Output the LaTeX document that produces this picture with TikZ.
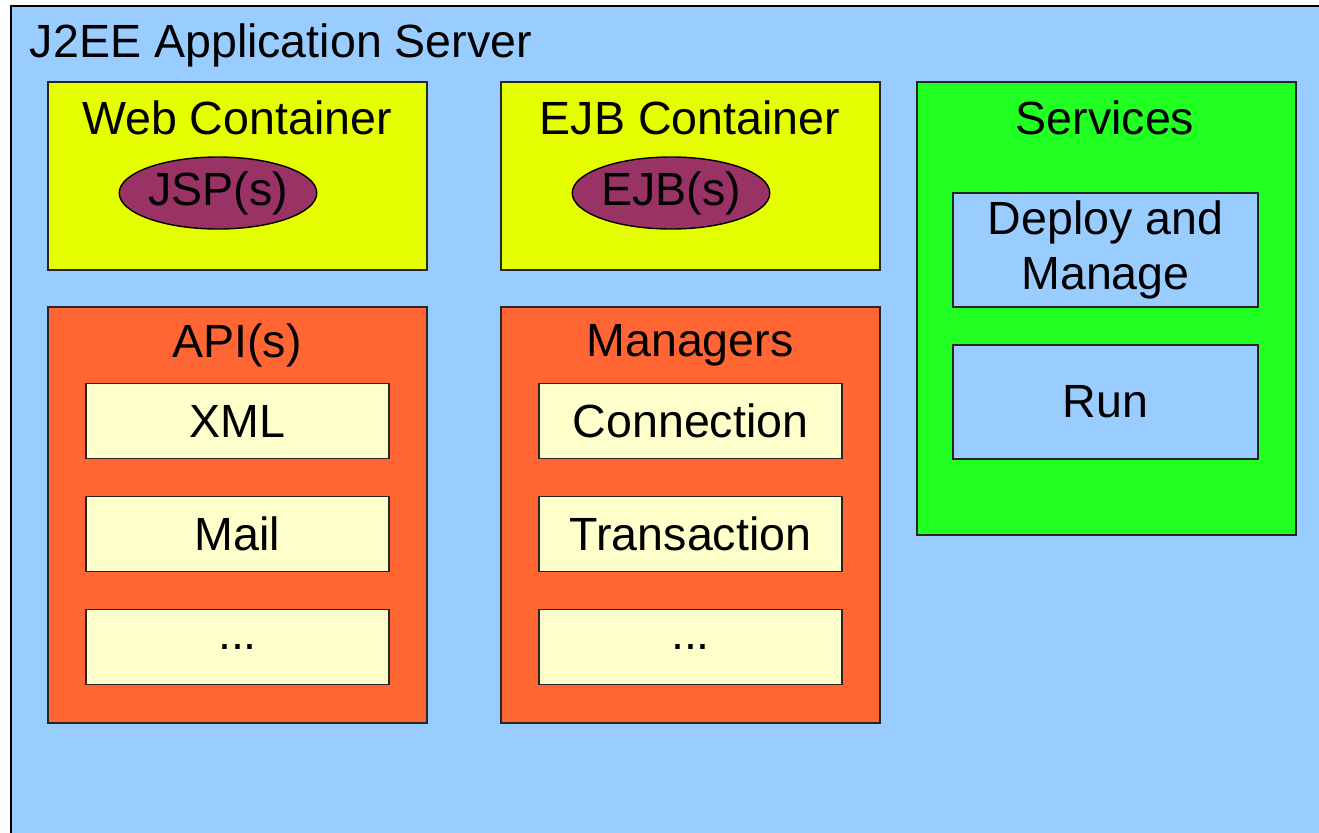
\documentclass[tikz,border=0pt]{standalone}
\usepackage{fontspec}
\setmainfont{Liberation Sans}
\usetikzlibrary{shapes.geometric}
\definecolor{serverblue}{HTML}{99CCFF}
\definecolor{contyellow}{HTML}{E6FF00}
\definecolor{servgreen}{HTML}{22FF22}
\definecolor{mgrorange}{HTML}{FF6633}
\definecolor{itemcream}{HTML}{FFFFCC}
\definecolor{beanpurple}{HTML}{993366}
\begin{document}
\begin{tikzpicture}
[x=0.02cm,y=-0.02cm,
  every node/.style={font=\fontsize{26.5}{31}\selectfont,inner sep=0pt,outer sep=0pt},
  boxdecorate/.style={draw=black!85,line width=1.1pt},
  contdecorate/.style={boxdecorate,fill=contyellow,minimum width=379*0.02cm,minimum height=188*0.02cm},
  groupdecorate/.style={boxdecorate,fill=mgrorange,minimum width=379*0.02cm,minimum height=416*0.02cm},
  itemdecorate/.style={boxdecorate,fill=itemcream,minimum width=303*0.02cm,minimum height=75*0.02cm},
  taskdecorate/.style={boxdecorate,fill=serverblue,minimum width=305*0.02cm,minimum height=114*0.02cm,align=center},
  beandecorate/.style={shape=ellipse,draw=black,line width=0.8pt,fill=beanpurple,minimum width=190*0.02cm,minimum height=72*0.02cm}]
\useasboundingbox (0,0) rectangle (1319,832);
\clip (0,0) rectangle (1319,832);
%% server frame
\draw[fill=serverblue,line width=1.1pt] (11,6) rectangle (1340,860);
\node (server) [anchor=base west] at (30,57) {J2EE Application Server};
%% containers
\node (web) at (237.5,176) [contdecorate] {};
\node (ejb) at (690.5,176) [contdecorate] {};
\node at (237,118) {Web Container};
\node at (690,118) {EJB Container};
\node (jsp) at (218,193) [beandecorate] {JSP(s)};
\node (bean) at (671,193) [beandecorate] {EJB(s)};
%% services
\node (services) at (1106.5,308.5) [boxdecorate,fill=servgreen,minimum width=379*0.02cm,minimum height=453*0.02cm] {};
\node at (1105,118) {Services};
\node (deploy) at (1105.5,250) [taskdecorate] {Deploy and\\Manage};
\node (run) at (1105.5,402) [taskdecorate] {Run};
%% api and manager groups
\node (api) at (237.5,515) [groupdecorate] {};
\node (managers) at (690.5,515) [groupdecorate] {};
\node at (237,345) {API(s)};
\node at (690,345) {Managers};
\foreach \nodename/\x/\y/\label in {xml/237.5/421/XML, mail/237.5/534/Mail, apimore/237.5/647/{{.{}.{}.}},
  conn/690.5/421/Connection, trans/690.5/534/Transaction, mgrmore/690.5/647/{{.{}.{}.}}} {
  \node (\nodename) at (\x,\y) [itemdecorate] {\label};
}
\end{tikzpicture}
\end{document}
